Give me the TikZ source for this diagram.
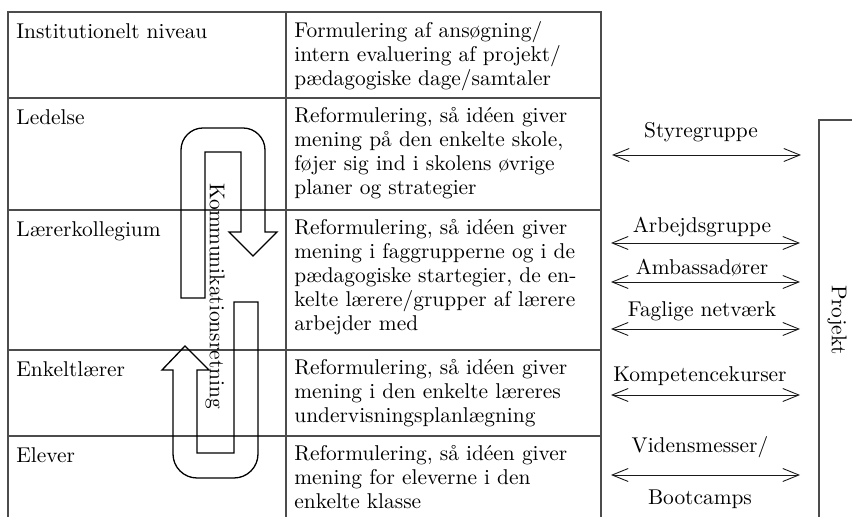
\documentclass[tikz,border=0pt]{standalone}
\usepackage{tikz}
\usetikzlibrary{arrows.meta}
\tikzstyle{tabline} = [draw=black!70, line width=0.6pt]
\tikzstyle{lvl} = [anchor=north west, inner sep=0pt, align=left, execute at begin node=\strut]
\tikzstyle{lab} = [anchor=base, inner sep=0pt]
\tikzstyle{link} = [draw=black!90, line width=0.45pt, {Straight Barb[length=8pt,width=6.5pt]}-{Straight Barb[length=8pt,width=6.5pt]}]
\tikzstyle{turn} = [draw=black, line width=0.65pt]

\begin{document}
\begin{tikzpicture}[x=0.5pt, y=-0.5pt, font=\fontsize{10.7}{12}\selectfont]
  \useasboundingbox (0,0) rectangle (852,517);

  % table
  \draw[tabline] (8,517) -- (8,12) -- (601,12) -- (601,517);
  \draw[tabline] (286,12) -- (286,517);
  \draw[tabline] (8,98) -- (601,98);
  \draw[tabline] (8,210) -- (601,210);
  \draw[tabline] (8,350) -- (601,350);
  \draw[tabline] (8,436) -- (601,436);

  % levels
  \node[lvl] (lvl1) at (16,21) {Institutionelt niveau};
  \node[lvl] (lvl2) at (16,107) {Ledelse};
  \node[lvl] (lvl3) at (16,219) {Lærerkollegium};
  \node[lvl] (lvl4) at (16,359) {Enkeltlærer};
  \node[lvl] (lvl5) at (16,445) {Elever};

  \node[lvl] (desc1) at (294,21) {Formulering af ansøgning/\\intern evaluering af projekt/\\pædagogiske dage/samtaler};
  \node[lvl] (desc2) at (294,107) {Reformulering, så idéen giver\\mening på den enkelte skole,\\føjer sig ind i skolens øvrige\\planer og strategier};
  \node[lvl] (desc3) at (294,219) {Reformulering, så idéen giver\\mening i faggrupperne og i de\\pædagogiske startegier, de en-\\kelte lærere/grupper af lærere\\arbejder med};
  \node[lvl] (desc4) at (294,359) {Reformulering, så idéen giver\\mening i den enkelte læreres\\undervisningsplanlægning};
  \node[lvl] (desc5) at (294,445) {Reformulering, så idéen giver\\mening for eleverne i den\\enkelte klasse};

  % communication arrows
  \draw[turn] (205,298) -- (181,298) -- (181,150) arc[start angle=180, end angle=270, radius=22]
    -- (243,128) arc[start angle=270, end angle=360, radius=22]
    -- (265,232) -- (277,232) -- (253,256) -- (229,232) -- (241,232) -- (241,152) -- (205,152) -- cycle;
  \draw[turn] (234,302) -- (258,302) -- (258,454) arc[start angle=0, end angle=90, radius=24]
    -- (197,478) arc[start angle=90, end angle=180, radius=24]
    -- (173,370) -- (162,370) -- (185,346) -- (209,370) -- (197,370) -- (197,453) -- (234,453) -- cycle;
  \node[rotate=-90, inner sep=0pt] (komm) at (215,296) {Kommunikationsretning};

  % project
  \draw[tabline] (852,120) -- (819,120) -- (819,517);
  \node[rotate=-90, inner sep=0pt] (proj) at (837,320) {Projekt};

  \coordinate (sty-w) at (612,155);  \coordinate (sty-e) at (801,155);
  \coordinate (arb-w) at (611,243);  \coordinate (arb-e) at (800,243);
  \coordinate (amb-w) at (611,282);  \coordinate (amb-e) at (800,282);
  \coordinate (fag-w) at (611,329);  \coordinate (fag-e) at (800,329);
  \coordinate (komp-w) at (611,395); \coordinate (komp-e) at (800,395);
  \coordinate (vid-w) at (611,475);  \coordinate (vid-e) at (800,475);

  \node[lab] (sty) at (701,138) {Styregruppe};
  \node[lab] (arb) at (702,233) {Arbejdsgruppe};
  \node[lab] (amb) at (702,275) {Ambassadører};
  \node[lab] (fag) at (702,317) {Faglige netværk};
  \node[lab] (komp) at (700,382) {Kompetencekurser};
  \node[lab] (vid) at (700,453) {Vidensmesser/};
  \node[lab] (boot) at (700,505) {Bootcamps};

  \draw[link] (sty-w) -- (sty-e);
  \draw[link] (arb-w) -- (arb-e);
  \draw[link] (amb-w) -- (amb-e);
  \draw[link] (fag-w) -- (fag-e);
  \draw[link] (komp-w) -- (komp-e);
  \draw[link] (vid-w) -- (vid-e);
\end{tikzpicture}
\end{document}
